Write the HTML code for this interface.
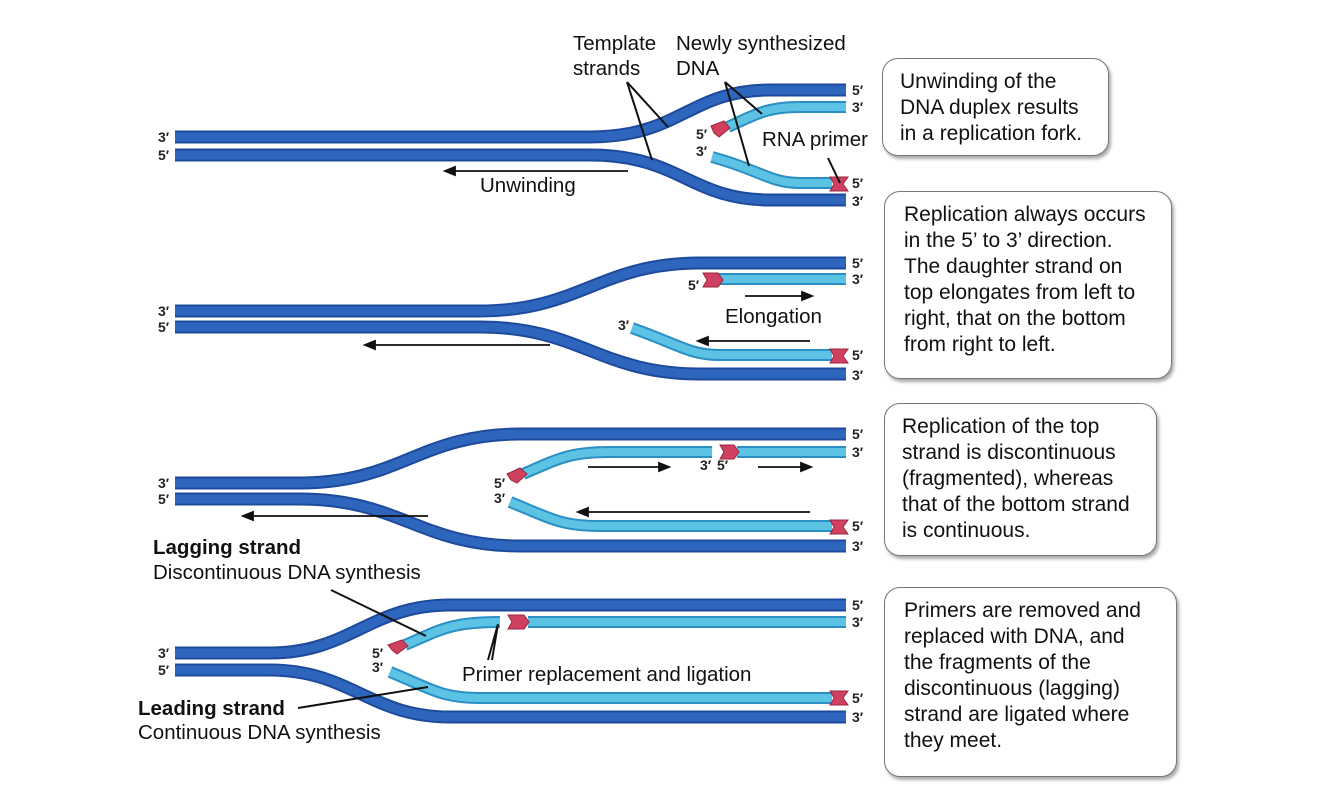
<!DOCTYPE html>
<html><head><meta charset="utf-8"><style>
body{margin:0;background:#fff;width:1334px;height:791px;overflow:hidden;font-family:"Liberation Sans",sans-serif;}
.box{position:absolute;border:1.5px solid #777;border-radius:16px;background:#fff;box-shadow:2px 3px 3px #aaa;font-size:21px;line-height:26px;color:#111;padding:10px 0 0 17px;box-sizing:border-box;white-space:nowrap;}
</style></head><body>
<svg width="1334" height="791" style="position:absolute;left:0;top:0" font-family="Liberation Sans, sans-serif">
<g fill="none" stroke-linecap="butt">
<g stroke="#1d4a9c" stroke-width="13">
<path d="M175 137 L590 137 C680 137 690 90 770 90 L846 90"/>
<path d="M175 155 L590 155 C680 155 690 200 770 200 L846 200"/>
<path d="M175 311 L480 311 C580 311 600 263 700 263 L846 263"/>
<path d="M175 327 L480 327 C580 327 600 374 700 374 L846 374"/>
<path d="M175 483 L300 483 C400 483 420 434 520 434 L846 434"/>
<path d="M175 499 L300 499 C400 499 420 546 520 546 L846 546"/>
<path d="M175 653 L270 653 C350 653 370 605 450 605 L846 605"/>
<path d="M175 670 L270 670 C350 670 370 717 450 717 L846 717"/>
</g>
<g stroke="#2f66bd" stroke-width="9">
<path d="M175 137 L590 137 C680 137 690 90 770 90 L846 90"/>
<path d="M175 155 L590 155 C680 155 690 200 770 200 L846 200"/>
<path d="M175 311 L480 311 C580 311 600 263 700 263 L846 263"/>
<path d="M175 327 L480 327 C580 327 600 374 700 374 L846 374"/>
<path d="M175 483 L300 483 C400 483 420 434 520 434 L846 434"/>
<path d="M175 499 L300 499 C400 499 420 546 520 546 L846 546"/>
<path d="M175 653 L270 653 C350 653 370 605 450 605 L846 605"/>
<path d="M175 670 L270 670 C350 670 370 717 450 717 L846 717"/>
</g>
<g stroke="#2a8fc4" stroke-width="12">
<path d="M728 127 C760 112 770 107 800 107 L846 107"/>
<path d="M712 157 C760 170 770 183 800 183 L832 183"/>
<path d="M718 279 L846 279"/>
<path d="M632 328 C680 345 690 355 720 355 L832 355"/>
<path d="M523 474 C560 458 570 452 610 452 L712 452"/>
<path d="M737 452 L846 452"/>
<path d="M510 502 C550 518 560 526 600 526 L832 526"/>
<path d="M405 645 C440 630 450 622 500 622"/>
<path d="M528 622 L846 622"/>
<path d="M390 672 C430 688 440 698 480 698 L832 698"/>
</g>
<g stroke="#5cc3e4" stroke-width="8">
<path d="M728 127 C760 112 770 107 800 107 L846 107"/>
<path d="M712 157 C760 170 770 183 800 183 L832 183"/>
<path d="M718 279 L846 279"/>
<path d="M632 328 C680 345 690 355 720 355 L832 355"/>
<path d="M523 474 C560 458 570 452 610 452 L712 452"/>
<path d="M737 452 L846 452"/>
<path d="M510 502 C550 518 560 526 600 526 L832 526"/>
<path d="M405 645 C440 630 450 622 500 622"/>
<path d="M528 622 L846 622"/>
<path d="M390 672 C430 688 440 698 480 698 L832 698"/>
</g>
</g>
<g fill="#d0405f" stroke="#9c2440" stroke-width="1">
<polygon points="711,126 724,121 730,128 719,137 714,133"/>
<polygon points="830,177 848,177 843,184 848,191 830,191 834,184"/>
<polygon points="703,273 718,273 723,280 718,287 703,287 707,280"/>
<polygon points="830,349 848,349 843,356 848,363 830,363 834,356"/>
<polygon points="507,474 520,468 527,474 517,483 511,480"/>
<polygon points="720,445 734,445 739,452 734,459 720,459 724,452"/>
<polygon points="830,520 848,520 843,527 848,534 830,534 834,527"/>
<polygon points="388,645 402,640 408,646 397,654 392,650"/>
<polygon points="508,615 524,615 529,622 524,629 508,629 512,622"/>
<polygon points="830,691 848,691 843,698 848,705 830,705 834,698"/>
</g>
<g stroke="#111" stroke-width="1.8" fill="#111">
<line x1="628" y1="171" x2="452" y2="171"/><polygon points="445,171 455,167 455,175"/>
<line x1="550" y1="345" x2="372" y2="345"/><polygon points="365,345 375,341 375,349"/>
<line x1="745" y1="296" x2="805" y2="296"/><polygon points="812,296 802,292 802,300"/>
<line x1="810" y1="341" x2="705" y2="341"/><polygon points="698,341 708,337 708,345"/>
<line x1="428" y1="516" x2="250" y2="516"/><polygon points="243,516 253,512 253,520"/>
<line x1="588" y1="467" x2="662" y2="467"/><polygon points="669,467 659,463 659,471"/>
<line x1="758" y1="467" x2="804" y2="467"/><polygon points="811,467 801,463 801,471"/>
<line x1="810" y1="512" x2="585" y2="512"/><polygon points="578,512 588,508 588,516"/>
</g>
<g stroke="#111" stroke-width="2" fill="none">
<path d="M627 82 L668 127 M627 82 L652 160"/>
<path d="M725 82 L762 114 M725 82 L749 166"/>
<path d="M828 158 L840 183"/>
<path d="M331 590 L426 636"/>
<path d="M298 708 L428 687"/>
<path d="M488 660 L498 624 L492 660"/>
</g>
<g font-size="14" font-weight="bold" fill="#222">
<text x="158" y="142">3′</text><text x="158" y="160">5′</text>
<text x="158" y="316">3′</text><text x="158" y="332">5′</text>
<text x="158" y="488">3′</text><text x="158" y="504">5′</text>
<text x="158" y="658">3′</text><text x="158" y="675">5′</text>
<text x="852" y="95">5′</text><text x="852" y="112">3′</text><text x="852" y="188">5′</text><text x="852" y="206">3′</text>
<text x="852" y="268">5′</text><text x="852" y="284">3′</text><text x="852" y="360">5′</text><text x="852" y="380">3′</text>
<text x="852" y="439">5′</text><text x="852" y="457">3′</text><text x="852" y="531">5′</text><text x="852" y="551">3′</text>
<text x="852" y="610">5′</text><text x="852" y="627">3′</text><text x="852" y="703">5′</text><text x="852" y="722">3′</text>
<text x="696" y="139">5′</text><text x="696" y="156">3′</text>
<text x="688" y="290">5′</text><text x="618" y="330">3′</text>
<text x="494" y="488">5′</text><text x="494" y="503">3′</text>
<text x="700" y="470">3′</text><text x="717" y="470">5′</text>
<text x="372" y="658">5′</text><text x="372" y="672">3′</text>
</g>
<g font-size="20.5" fill="#111">
<text x="573" y="50">Template</text><text x="573" y="75">strands</text>
<text x="676" y="50">Newly synthesized</text><text x="676" y="75">DNA</text>
<text x="762" y="146">RNA primer</text>
<text x="480" y="192">Unwinding</text>
<text x="725" y="323">Elongation</text>
<text x="153" y="554" font-weight="bold">Lagging strand</text>
<text x="153" y="579">Discontinuous DNA synthesis</text>
<text x="462" y="681">Primer replacement and ligation</text>
<text x="138" y="715" font-weight="bold">Leading strand</text>
<text x="138" y="739">Continuous DNA synthesis</text>
</g>
</svg>
<div class="box" style="left:882px;top:58px;width:227px;height:98px;">Unwinding of the<br>DNA duplex results<br>in a replication fork.</div>
<div class="box" style="left:884px;top:191px;width:288px;height:188px;padding-left:19px;">Replication always occurs<br>in the 5’ to 3’ direction.<br>The daughter strand on<br>top elongates from left to<br>right, that on the bottom<br>from right to left.</div>
<div class="box" style="left:884px;top:403px;width:273px;height:153px;">Replication of the top<br>strand is discontinuous<br>(fragmented), whereas<br>that of the bottom strand<br>is continuous.</div>
<div class="box" style="left:884px;top:587px;width:293px;height:190px;padding-left:19px;">Primers are removed and<br>replaced with DNA, and<br>the fragments of the<br>discontinuous (lagging)<br>strand are ligated where<br>they meet.</div>
</body></html>
